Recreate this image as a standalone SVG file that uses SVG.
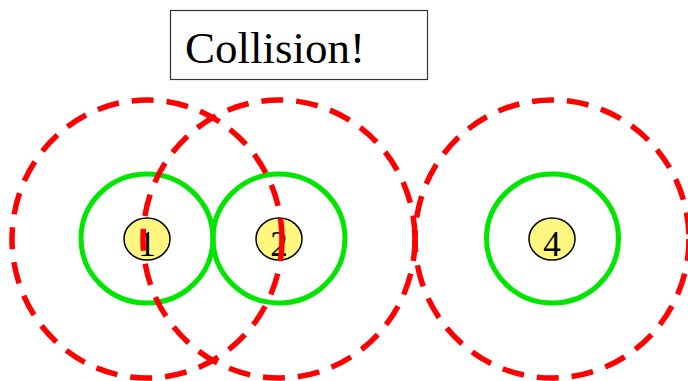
<svg xmlns="http://www.w3.org/2000/svg" width="688" height="381" viewBox="0 0 688 381">
<style>
.range{fill:none;stroke:#00e600;stroke-width:5}
.zone{fill:none;stroke:#ff0000;stroke-width:5.5;stroke-dasharray:22 13}
.node{fill:#fff780;stroke:#000;stroke-width:1.5}
.lbl{font-family:"Liberation Serif","Times New Roman",serif;font-size:35px;fill:#000;text-anchor:middle}
.title{font-family:"Liberation Serif","Times New Roman",serif;font-size:45px;fill:#000}
</style>
<rect width="688" height="381" fill="#fff"/>
<g id="label">
<rect x="170.5" y="10.5" width="257" height="69" fill="#fff" stroke="#333" stroke-width="1.2"/>
<text class="title" x="185" y="63">Collision!</text>
</g>
<g id="ranges">
<ellipse class="range" cx="147" cy="238.5" rx="66" ry="64.5"/>
<ellipse class="range" cx="279" cy="238.5" rx="66" ry="64.5"/>
<ellipse class="range" cx="552.5" cy="238.5" rx="66" ry="64.5"/>
</g>
<g id="n1"><ellipse class="node" cx="147" cy="239" rx="23" ry="21"/><text class="lbl" x="147" y="256">1</text></g>
<g id="n2"><ellipse class="node" cx="279" cy="239" rx="23" ry="21"/><text class="lbl" x="279" y="256">2</text></g>
<g id="n4"><ellipse class="node" cx="552" cy="239" rx="23" ry="21"/><text class="lbl" x="552" y="256">4</text></g>
<g id="zones">
<ellipse class="zone" cx="147" cy="239" rx="135" ry="139"/>
<ellipse class="zone" cx="279" cy="239" rx="136" ry="139"/>
<ellipse class="zone" cx="552" cy="239" rx="137" ry="139"/>
</g>
</svg>
